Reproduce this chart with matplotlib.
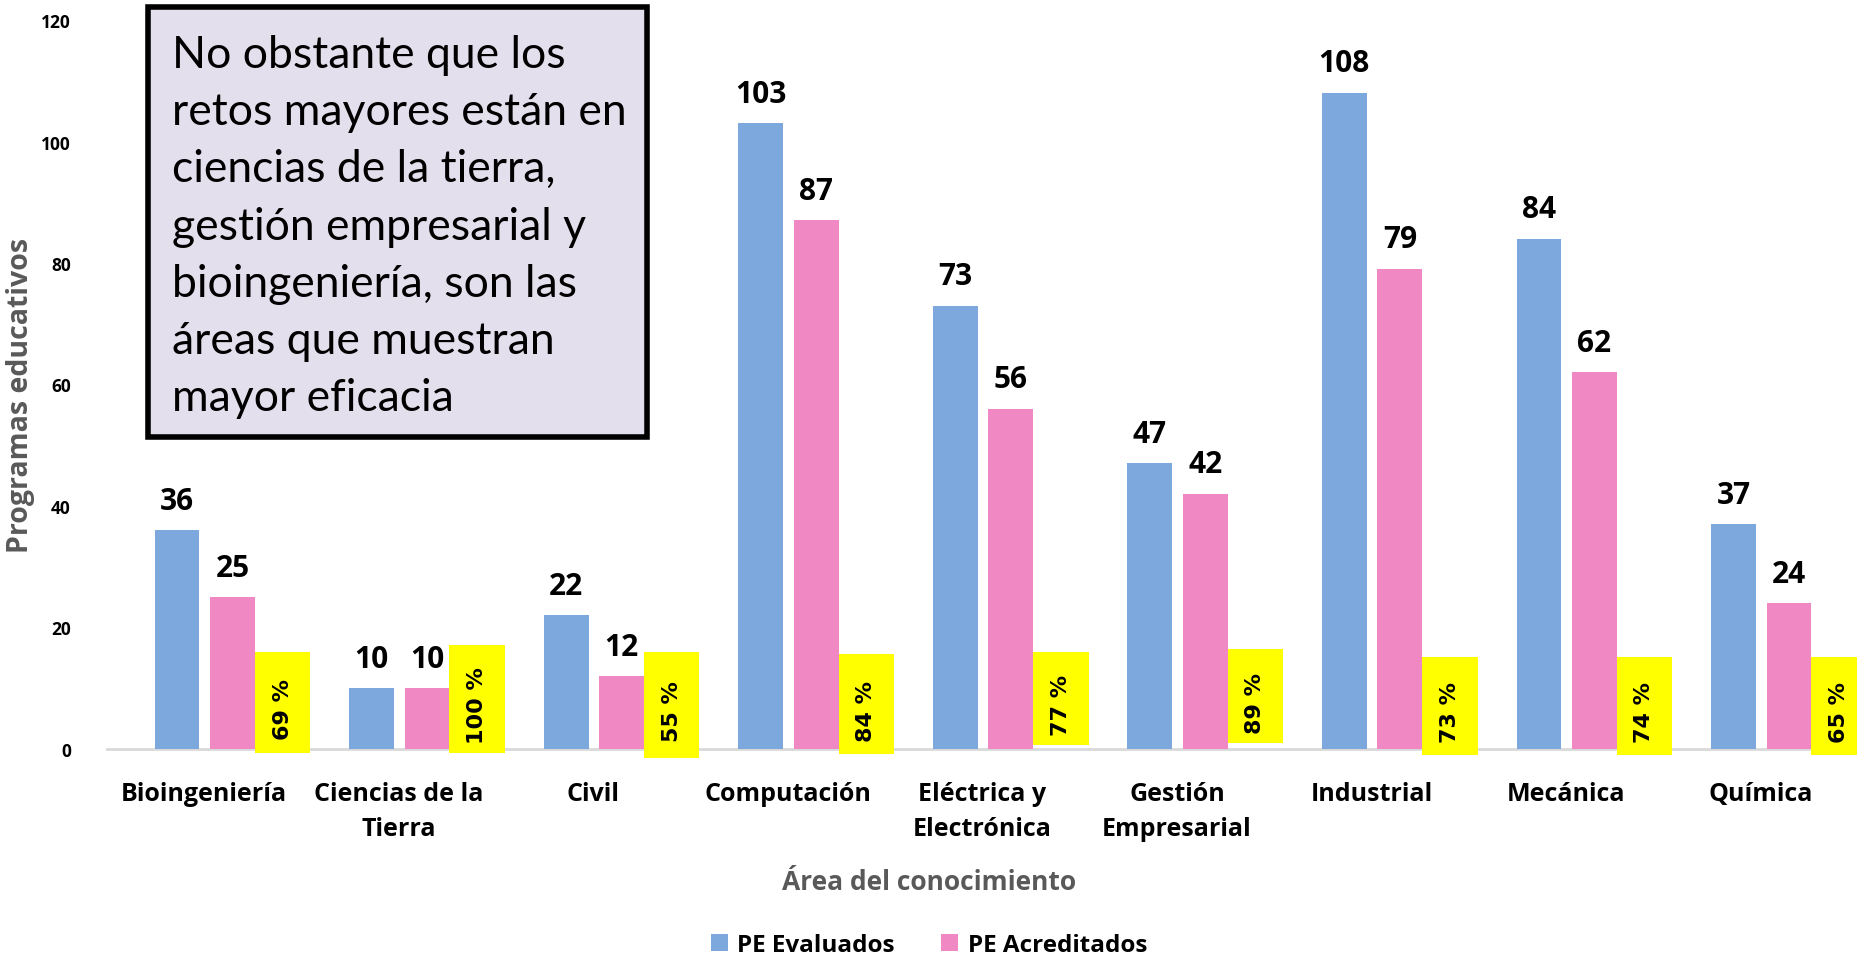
import matplotlib
matplotlib.use("Agg")
import matplotlib.pyplot as plt
from matplotlib.patches import Rectangle
import numpy as np

categories = ["Bioingeniería", "Ciencias de la\nTierra", "Civil", "Computación",
              "Eléctrica y\nElectrónica", "Gestión\nEmpresarial", "Industrial",
              "Mecánica", "Química"]
evaluados = [36, 10, 22, 103, 73, 47, 108, 84, 37]
acreditados = [25, 10, 12, 87, 56, 42, 79, 62, 24]
porcentajes = [69, 100, 55, 84, 77, 89, 73, 74, 65]
yticks = [0, 20, 40, 60, 80, 100, 120]

# layout (styles) for the yellow percentage boxes
box_top = [16.0, 17.2, 15.9, 15.6, 16.0, 16.4, 15.2, 15.2, 15.2]
box_bot = [-0.6, -0.6, -1.4, -0.8, 0.6, 1.0, -1.0, -1.0, -1.0]

BOLD = ['Open Sans', 'DejaVu Sans']
plt.rcParams['font.family'] = BOLD

BLUE = "#7CA8DE"
PINK = "#F088C4"

fig = plt.figure(figsize=(18.58, 9.62), dpi=100)
ax = fig.add_axes([107/1858, (962-750)/962, 1751/1858, (750-21)/962])

x = np.arange(len(categories))
w = 0.23
ax.bar(x - 0.14, evaluados, w, color=BLUE, label="PE Evaluados", zorder=2)
ax.bar(x + 0.145, acreditados, w, color=PINK, label="PE Acreditados", zorder=2)

for i in range(len(categories)):
    ax.text(x[i] - 0.14, evaluados[i] + 2.4, str(evaluados[i]), ha="center", va="bottom",
            fontsize=21.5, fontweight="bold", color="black")
    ax.text(x[i] + 0.145, acreditados[i] + 2.4, str(acreditados[i]), ha="center", va="bottom",
            fontsize=21.5, fontweight="bold", color="black")
    x0 = x[i] + 0.26
    x1 = x[i] + 0.545
    r = Rectangle((x0, box_bot[i]), x1 - x0, box_top[i] - box_bot[i], facecolor="#FFFF00",
                  edgecolor="none", zorder=3, clip_on=False)
    ax.add_patch(r)
    ax.text((x0 + x1) / 2, (box_top[i] + box_bot[i]) / 2 - 1.0, f"{porcentajes[i]} %", rotation=90,
            ha="center", va="center", fontsize=16, fontweight="bold", family="DejaVu Sans",
            zorder=4, clip_on=False)

ax.set_xlim(-0.5, 8.5)
ax.set_ylim(0, 120)
ax.set_yticks(yticks)
ax.set_yticklabels([str(t) for t in yticks], fontsize=12.5, fontweight="bold")
ax.set_xticks(x)
ax.set_xticklabels(categories, fontsize=18, fontweight="bold", linespacing=1.55)
ax.tick_params(axis="y", length=0, pad=26)
ax.tick_params(axis="x", length=0, pad=23)
for s in ["top", "right", "left"]:
    ax.spines[s].set_visible(False)
ax.spines["bottom"].set_color("#D9D9D9")
ax.spines["bottom"].set_linewidth(2)
ax.spines["bottom"].set_zorder(1)

fig.text(21/1858, 1 - 395/962, "Programas educativos", rotation=90, ha="center", va="center",
         fontsize=20.5, fontweight="bold", color="#595959")
fig.text(929/1858, 1 - 883/962, "Área del conocimiento", ha="center", va="center",
         fontsize=19, fontweight="bold", color="#595959")

leg = fig.legend(loc="center", bbox_to_anchor=(929/1858, 1 - 946/962), ncol=2, frameon=False,
                 prop={"size": 17.5, "weight": "bold"}, handlelength=0.7, handleheight=0.7,
                 columnspacing=1.9, handletextpad=0.4)

# annotation box
bx0, by0, bx1, by1 = 148/1858, 1 - 438/962, 647/1858, 1 - 8/962
fig.patches.append(Rectangle((bx0, by0), bx1 - bx0, by1 - by0, transform=fig.transFigure,
                             facecolor="#E4DFEC", edgecolor="black", linewidth=4, zorder=5))
fig.text(172/1858, 1 - 35/962,
         "No obstante que los\nretos mayores están en\nciencias de la tierra,\ngestión empresarial y\nbioingeniería, son las\náreas que muestran\nmayor eficacia",
         ha="left", va="top", fontsize=32, linespacing=1.49, color="black", zorder=6,
         family=['Lato', 'DejaVu Sans'])

fig.savefig("out.png", dpi=100)
